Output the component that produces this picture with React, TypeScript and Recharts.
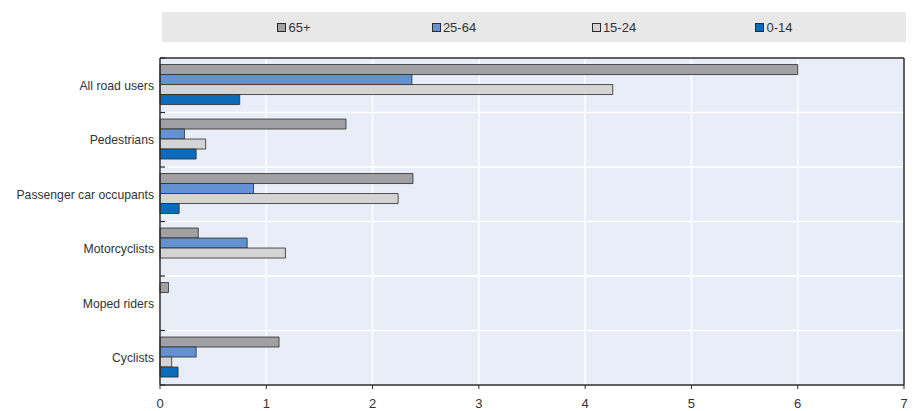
import React from "react";
import {
  BarChart,
  Bar,
  XAxis,
  YAxis,
  CartesianGrid,
  Legend,
} from "recharts";

const categories = [
  "All road users",
  "Pedestrians",
  "Passenger car occupants",
  "Motorcyclists",
  "Moped riders",
  "Cyclists",
];
const age65plus = [6.0, 1.75, 2.38, 0.36, 0.08, 1.12];
const age25to64 = [2.37, 0.23, 0.88, 0.82, null, 0.34];
const age15to24 = [4.26, 0.43, 2.24, 1.18, null, 0.11];
const age0to14 = [0.75, 0.34, 0.18, null, null, 0.17];
const xTicks = [0, 1, 2, 3, 4, 5, 6, 7];

const series = [
  { key: "a65", label: "65+", color: "#a1a1a3" },
  { key: "a25", label: "25-64", color: "#6491d2" },
  { key: "a15", label: "15-24", color: "#d4d4d4" },
  { key: "a0", label: "0-14", color: "#0b6bba" },
];

const data = categories.map((name, i) => ({
  name,
  a65: age65plus[i],
  a25: age25to64[i],
  a15: age15to24[i],
  a0: age0to14[i],
}));

const FONT = '"Liberation Sans", Arial, sans-serif';
const DARK = "#2b2b2b";
const TICK_MARGIN = 6;

function LegendBox() {
  return (
    <div
      style={{
        display: "flex",
        justifyContent: "center",
        alignItems: "center",
        background: "#e8e8e8",
        height: 30,
        fontFamily: FONT,
        fontSize: 13,
        color: "#333",
      }}
    >
      {series.map((s) => (
        <div
          key={s.key}
          style={{ width: 160, display: "flex", justifyContent: "center", alignItems: "center" }}
        >
          <span
            style={{
              display: "inline-block",
              width: 7,
              height: 7,
              background: s.color,
              border: `1px solid ${DARK}`,
              marginRight: 2,
            }}
          />
          <span>{s.label}</span>
        </div>
      ))}
    </div>
  );
}

// category label plus small inward tick on the band boundary
function CategoryTick(props: any) {
  const { x, y, payload, index } = props;
  const half = payload && payload.offset ? payload.offset : 27;
  const ax = x + TICK_MARGIN;
  return (
    <g>
      <line x1={ax} x2={ax + 5} y1={y - half} y2={y - half} stroke={DARK} strokeWidth={1.2} />
      {index === categories.length - 1 && (
        <line x1={ax} x2={ax + 5} y1={y + half} y2={y + half} stroke={DARK} strokeWidth={1.2} />
      )}
      <text x={x} y={y} dy="0.355em" textAnchor="end" fontSize={12.2} fill="#333">
        {payload.value}
      </text>
    </g>
  );
}

// horizontal grid lines on the band edges of the category axis
function rowLines(props: any) {
  const { offset } = props;
  const n = categories.length;
  return categories
    .concat([""])
    .map((_, i) => offset.top + (i * offset.height) / n);
}

// plot frame: top and right edges
const frameTop = (props: any) => [props.offset.top];
const frameRight = (props: any) => [props.offset.left + props.offset.width];

export default function App() {
  return (
    <div style={{ position: "absolute", left: 0, top: 0 }}>
      <BarChart
        width={917}
        height={411}
        data={data}
        layout="vertical"
        margin={{ top: 58, right: 13, bottom: 0, left: 0 }}
        barCategoryGap="12%"
        barGap={0}
        style={{ fontFamily: FONT }}
      >
        <CartesianGrid
          fill="#e9edf7"
          stroke="#ffffff"
          strokeWidth={1.5}
          horizontalCoordinatesGenerator={rowLines}
        />
        <CartesianGrid
          stroke={DARK}
          strokeWidth={1.5}
          horizontalCoordinatesGenerator={frameTop}
          verticalCoordinatesGenerator={frameRight}
        />
        <XAxis
          type="number"
          domain={[0, 7]}
          ticks={xTicks}
          height={26}
          axisLine={{ stroke: DARK, strokeWidth: 1.5 }}
          tickLine={{ stroke: DARK }}
          tickSize={4}
          tickMargin={10}
          tick={{ fontSize: 13, fill: "#333" }}
        />
        <YAxis
          type="category"
          dataKey="name"
          width={160}
          axisLine={{ stroke: DARK, strokeWidth: 1.5 }}
          tickLine={false}
          tickSize={0}
          tickMargin={TICK_MARGIN}
          tick={<CategoryTick />}
        />
        <Legend
          verticalAlign="middle"
          layout="horizontal"
          content={() => <LegendBox />}
          wrapperStyle={{ left: 162, top: 12, width: 744 }}
        />
        {series.map((s) => (
          <Bar
            key={s.key}
            dataKey={s.key}
            name={s.label}
            fill={s.color}
            stroke={DARK}
            strokeWidth={0.8}
            isAnimationActive={false}
          />
        ))}
      </BarChart>
    </div>
  );
}
